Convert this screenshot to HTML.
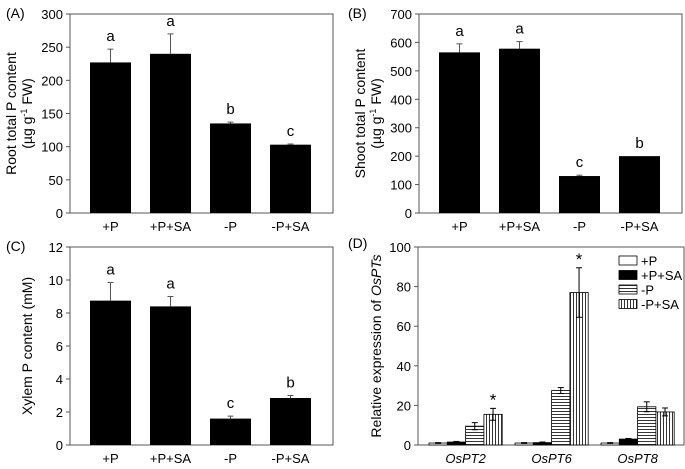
<!DOCTYPE html>
<html><head><meta charset="utf-8"><style>
body{margin:0;background:#fff}
svg text{font-family:"Liberation Sans",Arial,sans-serif;fill:#000}
</style></head><body>
<svg id="fig" width="685" height="464" viewBox="0 0 685 464" xmlns="http://www.w3.org/2000/svg">
<defs>
<pattern id="hstripe" patternUnits="userSpaceOnUse" width="4" height="3"><rect width="4" height="3" fill="#fff"/><line x1="0" y1="0.5" x2="4" y2="0.5" stroke="#000" stroke-width="0.8"/></pattern>
<pattern id="vstripe" patternUnits="userSpaceOnUse" width="3" height="4"><rect width="3" height="4" fill="#fff"/><line x1="0.5" y1="0" x2="0.5" y2="4" stroke="#000" stroke-width="0.8"/></pattern>
</defs>
</svg>
<script>
const catLabels = ["+P","+P+SA","-P","-P+SA"];
const rootVals = [227,240,135,103];
const rootErr = [20,30,2,1];
const rootLetters = ["a","a","b","c"];
const shootVals = [565,578,130,200];
const shootErr = [30,25,3,0];
const shootLetters = ["a","a","c","b"];
const xylemVals = [8.75,8.4,1.6,2.85];
const xylemErr = [1.1,0.6,0.15,0.15];
const xylemLetters = ["a","a","c","b"];
const genes = ["OsPT2","OsPT6","OsPT8"];
const seriesNames = ["+P","+P+SA","-P","-P+SA"];
const exprP = [1,1,1];
const exprPSA = [1.5,1.2,3];
const exprMP = [9.5,27.5,19.3];
const exprMPSA = [15.5,77,16.7];
const errP = [0.2,0.2,0.2];
const errPSA = [0.3,0.3,0.3];
const errMP = [1.8,1.5,2.5];
const errMPSA = [3,12.5,2];
const stars = ["*","*",""];

const svg=document.getElementById('fig');
const NS="http://www.w3.org/2000/svg";
function mk(tag,attrs,parent,name){const e=document.createElementNS(NS,tag);for(const k in attrs)e.setAttribute(k,attrs[k]);


(parent||svg).appendChild(e);return e;}
function txt(s,x,y,opt,parent,name){const t=mk('text',Object.assign({x:x,y:y,'font-size':13,'text-anchor':'middle'},opt||{}),parent,name);t.textContent=s;return t;}

function axes(g,x0,x1,y0,y1,max,step,name){
  mk('rect',{x:x0,y:y1,width:x1-x0,height:y0-y1,fill:'none',stroke:'#555','stroke-width':1},g,name+'-frame');
  const ys=v=>y0-(v/max)*(y0-y1);
  for(let v=0;v<=max+1e-9;v+=step){const y=ys(v);
    mk('line',{x1:x0-4,y1:y,x2:x0,y2:y,stroke:'#555'},g,name+'-y-tick');
    txt(String(Math.round(v*100)/100),x0-7,y+5,{'text-anchor':'end'},g,name+'-y-tick-label');}
  return ys;
}
function errbar(g,cx,top,e,ys,v,name){
  if(e<=0)return;const yt=ys(v+e);
  mk('line',{x1:cx,y1:yt,x2:cx,y2:top,stroke:'#555'},g,name);
  mk('line',{x1:cx-3,y1:yt,x2:cx+3,y2:yt,stroke:'#555'},g,name+'-cap');
}
function simplePanel(name,label,lx,x0,x1,y0,y1,max,step,vals,errs,letters,ytitle){
  const g=mk('g',{},svg,name);
  txt(label,lx,y1+4,{'text-anchor':'start','font-size':14},g,name+'-panel-label');
  const ys=axes(g,x0,x1,y0,y1,max,step,name);
  const bx=i=>x0+20+i*60;
  vals.forEach((v,i)=>{
    const cx=bx(i)+20.5;
    errbar(g,cx,ys(v),errs[i],ys,v,name+'-error-bar');
    mk('rect',{x:bx(i),y:ys(v),width:41,height:y0-ys(v),fill:'#000'},g,name+'-bar');
    const ty=(errs[i]>0?ys(v+errs[i]):ys(v))-8;
    txt(letters[i],cx,ty,{'font-size':15},g,name+'-significance-letter');
    txt(catLabels[i],cx,y0+18,{},g,name+'-x-label');
  });
  ytitle.forEach((t,k)=>{
    const tx=x0-54+k*16, ty=(y0+y1)/2;
    const el=mk('text',{x:tx,y:ty,'font-size':14,'text-anchor':'middle',transform:`rotate(-90 ${tx} ${ty})`},g,name+'-y-title');
    el.innerHTML=t;
  });
}
simplePanel('root-chart','(A)',6,70,333,213,14,300,50,rootVals,rootErr,rootLetters,
 ['Root total P content','(µg g<tspan font-size="9" dy="-5">-1</tspan><tspan dy="5"> FW)</tspan>']);
simplePanel('shoot-chart','(B)',348,419,682,213,14,700,100,shootVals,shootErr,shootLetters,
 ['Shoot total P content','(µg g<tspan font-size="9" dy="-5">-1</tspan><tspan dy="5"> FW)</tspan>']);
simplePanel('xylem-chart','(C)',6,70,333,445,247,12,2,xylemVals,xylemErr,xylemLetters,
 ['','Xylem P content (mM)']);

(function(){
  const name='expression-chart';
  const g=mk('g',{},svg,name);
  const x0=418,x1=684,y0=445,y1=247;
  txt('(D)',348,y1+1,{'text-anchor':'start','font-size':14},g,name+'-panel-label');
  const ys=axes(g,x0,x1,y0,y1,100,20,name);
  const series=[exprP,exprPSA,exprMP,exprMPSA];
  const errs=[errP,errPSA,errMP,errMPSA];
  const fills=['#fff','#000','url(#hstripe)','url(#vstripe)'];
  const gx=j=>429+j*86, bw=18.3;
  genes.forEach((gn,j)=>{
    series.forEach((s,k)=>{
      const bx=gx(j)+k*bw, v=s[j];
      mk('rect',{x:bx,y:ys(v),width:bw,height:y0-ys(v),fill:fills[k],stroke:'#000','stroke-width':0.8},g,name+'-bar');
      const e=errs[k][j],cx=bx+bw/2;
      mk('line',{x1:cx,y1:ys(v+e),x2:cx,y2:ys(v-e),stroke:'#000'},g,name+'-error-bar');
      mk('line',{x1:cx-3,y1:ys(v+e),x2:cx+3,y2:ys(v+e),stroke:'#000'},g,name+'-error-cap');
      mk('line',{x1:cx-3,y1:ys(v-e),x2:cx+3,y2:ys(v-e),stroke:'#000'},g,name+'-error-cap');
    });
    if(stars[j]){const cx=gx(j)+3.5*bw;txt(stars[j],cx,ys(exprMPSA[j]+errMPSA[j])-3,{'font-size':17},g,name+'-significance-star');}
    txt(gn,gx(j)+2*bw,y0+18,{'font-style':'italic'},g,name+'-x-label');
  });
  seriesNames.forEach((s,k)=>{
    const y=256+k*14.5;
    mk('rect',{x:619,y:y,width:18,height:9,fill:fills[k],stroke:'#000','stroke-width':0.8},g,'legend-swatch');
    txt(s,641,y+9.5,{'text-anchor':'start'},g,'legend-entry');
  });
  const tx=381,ty=346;
  const el=mk('text',{x:tx,y:ty,'font-size':14,'text-anchor':'middle',transform:`rotate(-90 ${tx} ${ty})`},g,name+'-y-title');
  el.innerHTML='Relative expression of <tspan font-style="italic">OsPTs</tspan>';
})();
</script>
</body></html>
